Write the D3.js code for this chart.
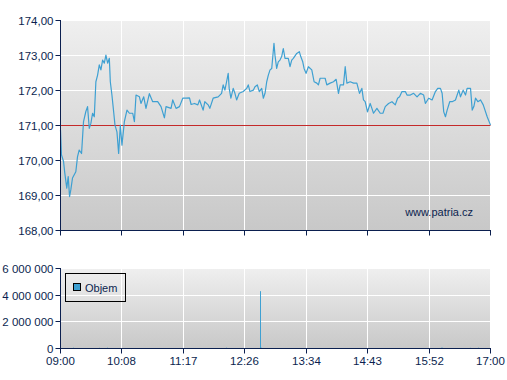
<!DOCTYPE html>
<html>
<head>
<meta charset="utf-8">
<script src="https://cdn.jsdelivr.net/npm/d3@7"></script>
<style>
html,body{margin:0;padding:0;background:#fff;}
svg{display:block;}
text{font-family:Arial,"Liberation Sans",sans-serif;fill:#0b1f4f;}
</style>
</head>
<body>
<svg id="c" width="507" height="380"></svg>
<script>
// ---- data ----
const timeLabels = ["09:00","10:08","11:17","12:26","13:34","14:43","15:52","17:00"];
const priceTicks = [168,169,170,171,172,173,174];
const volumeTicks = [0,2000000,4000000,6000000];
const referencePrice = 171;
const priceMinutes = [0,1.1,3.4,4.8,7.0,8.6,10.1,11.5,13.4,17.1,19.0,20.9,23.5,25.7,28.3,30.2,32.1,33.9,35.8,37.7,39.5,41.4,43.3,45.1,47.0,48.9,50.7,52.6,54.5,55.6,57.4,59.3,60.8,63.0,64.9,66.8,68.6,71.3,74.2,76.9,80.6,82.5,84.3,88.1,89.8,92.9,95.4,99.2,102.9,108.5,112.2,116.0,117.8,123.4,125.3,129.0,132.8,136.5,140.2,144.0,145.8,149.6,153.3,155.2,159.2,161.1,164.8,166.7,170.4,176.0,179.8,181.6,183.5,185.4,187.2,188.3,190.2,192.8,194.7,196.6,199.5,204.0,207.8,209.6,211.5,215.2,217.1,219.7,221.9,224.6,226.4,228.3,230.2,232.0,233.9,235.8,238.3,239.4,241.3,243.1,245.0,246.9,248.7,250.6,254.3,256.2,258.1,259.9,263.7,266.6,268.2,270.4,271.9,274.1,276.7,280.5,283.1,286.1,287.9,289.8,295.4,297.3,301.0,304.7,307.7,310.3,312.2,315.9,317.8,319.7,323.4,327.1,330.8,333.8,336.4,338.2,340.1,342.7,345.7,347.6,349.4,353.2,356.9,359.9,362.5,366.2,370.0,373.7,376.3,378.5,381.2,384.9,386.8,390.5,394.2,398.0,401.7,405.4,407.3,411.0,414.8,418.5,421.1,424.1,426.0,427.8,429.7,431.6,434.5,437.2,440.9,444.6,446.5,449.5,452.1,453.9,457.7,459.6,461.4,463.3,465.9,468.9,471.9,476.3,480];
const priceValues = [170.87,170.16,169.97,169.64,169.21,169.54,168.97,169.16,169.5,169.68,170.11,170.3,170.2,171.11,171.4,171.54,170.92,171.06,171.35,171.25,172.25,172.44,172.73,172.59,172.87,172.78,173.01,172.78,172.92,172.25,171.87,171.4,171.01,170.82,170.2,171.01,170.44,171.11,171.44,171.35,171.35,171.11,171.87,171.82,171.63,171.82,171.49,171.91,171.68,171.68,171.54,171.22,171.54,171.49,171.73,171.49,171.54,171.78,171.78,171.79,171.6,171.63,171.59,171.73,171.44,171.68,171.59,171.49,171.78,171.82,171.92,172.16,172.01,172.25,172.49,172.06,171.78,172.06,171.92,171.73,171.92,171.97,172.06,172.16,171.97,172.01,172.11,172.16,171.97,172.06,171.78,171.92,172.25,172.44,172.59,172.63,173.35,173.01,172.63,172.82,172.87,172.97,173.2,172.92,172.92,172.68,172.87,172.92,173.06,173.11,172.97,172.82,172.63,172.49,172.68,172.59,172.25,172.21,172.16,172.35,172.35,172.16,172.21,172.25,172.32,171.92,172.16,172.16,172.68,172.21,172.25,172.21,172.21,171.92,172.06,171.73,171.68,171.39,171.63,171.49,171.35,171.49,171.35,171.35,171.54,171.63,171.68,171.59,171.78,171.82,171.97,171.97,171.87,171.87,171.92,171.82,171.92,171.87,171.63,171.78,171.73,171.97,172.06,172.06,171.92,171.39,171.25,171.44,171.68,171.68,171.73,172.01,171.82,172.01,171.87,172.06,172.06,171.44,171.54,171.78,171.68,171.73,171.59,171.25,171.01];
const volumeMinutes = [14.5,43.6,52.6,185.4,223.0,224.9,424.8,426.5,457.6,467.1];
const volumeValues = [60000,50000,60000,60000,4300000,60000,60000,60000,50000,60000];

// ---- layout ----
const svg = d3.select("#c");
const L = 60.5, R = 490.5;
const P = {top:20.5, bottom:230.5};
const V = {top:268.5, bottom:348.5};
const navy = "#0b1f4f", lineCol = "#3ea0d2";
const totalMin = 480;

const x = d3.scaleLinear().domain([0,totalMin]).range([L,R]);
const tickMin = timeLabels.map((d,i)=> i*totalMin/(timeLabels.length-1));
const yP = d3.scaleLinear().domain([168,174]).range([P.bottom,P.top]);
const yV = d3.scaleLinear().domain([0,6000000]).range([V.bottom,V.top]);
const crisp = v => Math.floor(v)+0.5;

const defs = svg.append("defs");
const g1 = defs.append("linearGradient").attr("id","bg").attr("x1",0).attr("y1",0).attr("x2",0).attr("y2",1);
g1.append("stop").attr("offset","0%").attr("stop-color","#efefef");
g1.append("stop").attr("offset","100%").attr("stop-color","#c8c8c8");

function panel(top,bottom,yScale,yTicks,fmt){
  svg.append("rect").attr("x",L).attr("y",top).attr("width",R-L).attr("height",bottom-top).attr("fill","url(#bg)");
  const g = svg.append("g");
  // grid
  g.selectAll(".hg").data(yTicks).join("line")
    .attr("x1",L).attr("x2",R+0.5).attr("y1",d=>crisp(yScale(d))).attr("y2",d=>crisp(yScale(d)))
    .attr("stroke","#fff").attr("stroke-width",1);
  g.selectAll(".vg").data(tickMin).join("line")
    .attr("x1",d=>crisp(x(d))).attr("x2",d=>crisp(x(d))).attr("y1",top).attr("y2",bottom)
    .attr("stroke","#fff").attr("stroke-width",1);
}

panel(P.top,P.bottom,yP,priceTicks);
panel(V.top,V.bottom,yV,volumeTicks);

// reference line
svg.append("line").attr("x1",L).attr("x2",R).attr("y1",crisp(yP(referencePrice))).attr("y2",crisp(yP(referencePrice)))
  .attr("stroke","#c42a2a").attr("stroke-width",1);

// price line
const pts = d3.zip(priceMinutes,priceValues);
svg.append("path").datum(pts)
  .attr("d",d3.line().x(d=>x(d[0])).y(d=>yP(d[1])))
  .attr("fill","none").attr("stroke",lineCol).attr("stroke-width",1.2).attr("stroke-linejoin","round");

// volume bars
svg.selectAll(".vb").data(d3.zip(volumeMinutes,volumeValues)).join("rect")
  .attr("x",d=>Math.floor(x(d[0]))).attr("width",1)
  .attr("y",d=>yV(d[1])).attr("height",d=>V.bottom-0.5-yV(d[1]))
  .attr("fill",lineCol);

// axes
function axes(top,bottom,yScale,yTicks,fmt,withX){
  const g = svg.append("g");
  g.append("line").attr("x1",L).attr("x2",L).attr("y1",top-0.5).attr("y2",bottom+0.5).attr("stroke",navy);
  g.append("line").attr("x1",L).attr("x2",R+0.5).attr("y1",bottom).attr("y2",bottom).attr("stroke",navy);
  g.selectAll(".yt").data(yTicks).join("line")
    .attr("x1",L-5).attr("x2",L).attr("y1",d=>crisp(yScale(d))).attr("y2",d=>crisp(yScale(d))).attr("stroke",navy);
  g.selectAll(".yl").data(yTicks).join("text")
    .attr("x",53.5).attr("y",d=>crisp(yScale(d))+4.5).attr("text-anchor","end")
    .attr("font-size","11.5px").text(fmt);
  g.selectAll(".xt").data(tickMin).join("line")
    .attr("x1",d=>crisp(x(d))).attr("x2",d=>crisp(x(d))).attr("y1",bottom).attr("y2",bottom+5).attr("stroke",navy);
  if(withX){
    g.selectAll(".xl").data(tickMin).join("text")
      .attr("x",d=>crisp(x(d))).attr("y",bottom+16.5).attr("text-anchor","middle")
      .attr("font-size","11.5px").text((d,i)=>timeLabels[i]);
  }
}
axes(P.top,P.bottom,yP,priceTicks,d=>d3.format(".2f")(d).replace(".",","),false);
axes(V.top,V.bottom,yV,volumeTicks,d=>d3.format(",")(d).replace(/,/g," "),true);

// watermark
svg.append("text").attr("x",473).attr("y",216).attr("text-anchor","end").attr("font-size","11px").text("www.patria.cz");

// legend
const lg = svg.append("g");
lg.append("rect").attr("x",65.5).attr("y",273.5).attr("width",60).attr("height",28).attr("fill","none").attr("stroke","#000");
lg.append("rect").attr("x",73.5).attr("y",283.5).attr("width",7).attr("height",7).attr("fill",lineCol).attr("stroke","#000");
lg.append("text").attr("x",85).attr("y",291.5).attr("font-size","11px").text("Objem");
</script>
</body>
</html>
